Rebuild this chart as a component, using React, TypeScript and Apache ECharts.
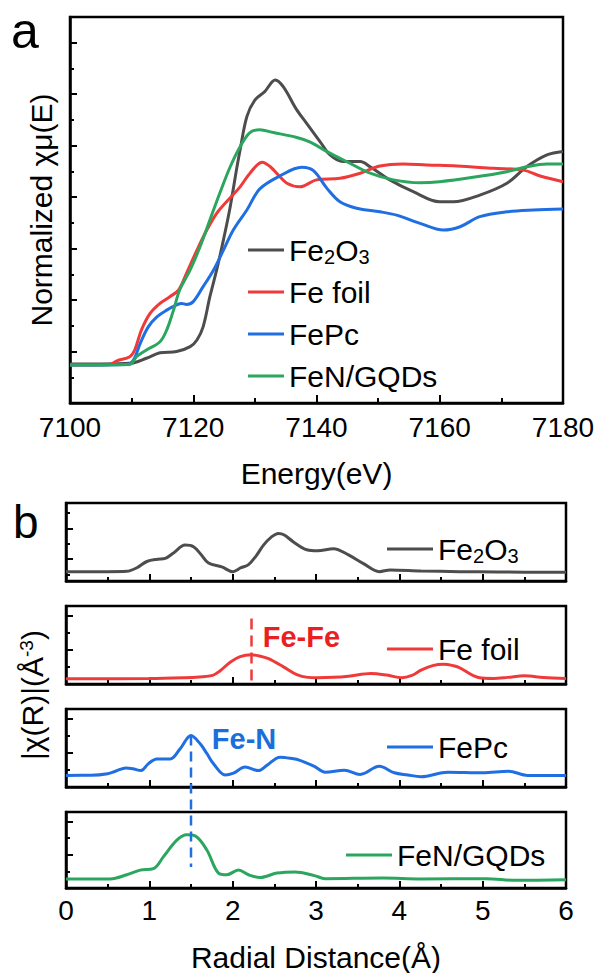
import React, { useEffect, useRef } from "react";
import * as echarts from "echarts";

const FONT = "'Liberation Sans', Arial, Helvetica, sans-serif";

const C_FE2O3 = "#4d4d4d";
const C_FOIL = "#f03a3a";
const C_FEPC = "#1f6fe2";
const C_FEN = "#2ba65e";

// ---------- (a) XANES: [energy (eV), normalized absorption] ----------
const xanesFe2O3 = [
  [7100, -0.048], [7105, -0.048], [7109.7, -0.046], [7112.4, -0.026], [7114.6, -0.005],
  [7117.3, 0.0], [7119.5, 0.019], [7120.6, 0.045], [7121.6, 0.096], [7122.7, 0.213],
  [7123.8, 0.317], [7124.9, 0.434], [7126.0, 0.563], [7127.1, 0.718], [7127.6, 0.783],
  [7128.7, 0.913], [7130.0, 0.977], [7131.6, 1.01], [7133.3, 1.055], [7134.6, 1.029],
  [7136.8, 0.939], [7138.4, 0.887], [7140.6, 0.815], [7142.2, 0.764], [7144.3, 0.738],
  [7147.1, 0.738], [7148.7, 0.718], [7151.9, 0.667], [7155.7, 0.621], [7160.0, 0.582],
  [7162.2, 0.582], [7166.5, 0.608], [7170.9, 0.654], [7174.1, 0.718], [7177.4, 0.764],
  [7180, 0.777],
];
const xanesFeFoil = [
  [7100, -0.052], [7106.5, -0.05], [7107.6, -0.036], [7109.7, -0.02], [7110.5, 0.006],
  [7111.6, 0.084], [7113.0, 0.148], [7114.6, 0.187], [7116.2, 0.213], [7117.6, 0.239],
  [7118.9, 0.304], [7120.6, 0.394], [7122.2, 0.472], [7123.8, 0.537], [7125.4, 0.582],
  [7127.6, 0.64], [7129.2, 0.693], [7131.2, 0.736], [7132.5, 0.718], [7133.8, 0.686],
  [7135.2, 0.654], [7137.3, 0.64], [7140.0, 0.667], [7143.8, 0.673], [7147.1, 0.693],
  [7150.3, 0.721], [7154.1, 0.729], [7157.9, 0.725], [7162.8, 0.721], [7168.7, 0.712],
  [7173.6, 0.705], [7176.3, 0.682], [7180, 0.66],
];
const xanesFePc = [
  [7100, -0.052], [7109.2, -0.05], [7110.3, -0.033], [7111.4, 0.032], [7112.7, 0.096],
  [7114.1, 0.135], [7115.7, 0.161], [7117.3, 0.181], [7118.1, 0.187], [7118.9, 0.183],
  [7120.0, 0.194], [7121.6, 0.252], [7123.3, 0.317], [7124.9, 0.394], [7126.5, 0.472],
  [7128.7, 0.55], [7130.8, 0.632], [7134.1, 0.683], [7137.6, 0.716], [7139.5, 0.703],
  [7141.7, 0.634], [7143.8, 0.582], [7146.5, 0.557], [7150.3, 0.543], [7153.0, 0.53],
  [7156.8, 0.498], [7160.6, 0.472], [7163.3, 0.485], [7166.5, 0.524], [7170.9, 0.543],
  [7175.2, 0.55], [7180, 0.554],
];
const xanesFeNGQDs = [
  [7100, -0.052], [7109.7, -0.05], [7110.8, -0.02], [7112.4, 0.006], [7114.6, 0.038],
  [7115.7, 0.084], [7116.8, 0.161], [7117.8, 0.239], [7119.5, 0.317], [7121.1, 0.407],
  [7122.7, 0.511], [7124.3, 0.615], [7126.0, 0.718], [7127.6, 0.796], [7129.2, 0.851],
  [7130.8, 0.862], [7133.0, 0.851], [7136.8, 0.832], [7138.9, 0.815], [7141.7, 0.777],
  [7144.9, 0.738], [7148.7, 0.693], [7152.5, 0.667], [7156.8, 0.656], [7160.0, 0.66],
  [7165.4, 0.677], [7170.9, 0.699], [7174.1, 0.718], [7177.4, 0.729], [7180, 0.729],
];
const xanesMajorTicks = [0, 0.2, 0.4, 0.6, 0.8, 1.0, 1.2];
const xanesMinorTicks = [-0.1, 0.1, 0.3, 0.5, 0.7, 0.9, 1.1];

// ---------- (b) FT-EXAFS: [R (Å), |χ(R)| relative to panel height] ----------
const exafsFe2O3 = [
  [0, 0.12], [0.5, 0.12], [0.73, 0.125], [0.85, 0.17], [0.97, 0.25], [1.1, 0.28],
  [1.19, 0.29], [1.29, 0.36], [1.43, 0.46], [1.53, 0.44], [1.62, 0.34], [1.71, 0.23],
  [1.87, 0.18], [2.0, 0.12], [2.1, 0.17], [2.19, 0.21], [2.28, 0.32], [2.37, 0.46],
  [2.46, 0.56], [2.55, 0.61], [2.62, 0.59], [2.73, 0.5], [2.89, 0.4], [3.02, 0.387],
  [3.21, 0.414], [3.39, 0.334], [3.57, 0.222], [3.76, 0.12], [3.89, 0.142], [4.26, 0.129],
  [4.72, 0.12], [5.18, 0.115], [6, 0.111],
];
const exafsFeFoil = [
  [0, 0.068], [1.0, 0.07], [1.42, 0.08], [1.6, 0.09], [1.76, 0.11], [1.85, 0.17],
  [1.97, 0.28], [2.09, 0.35], [2.22, 0.375], [2.32, 0.36], [2.43, 0.325], [2.61, 0.22],
  [2.77, 0.12], [2.9, 0.085], [3.02, 0.08], [3.21, 0.085], [3.39, 0.1], [3.66, 0.135],
  [3.85, 0.114], [4.03, 0.08], [4.15, 0.11], [4.26, 0.177], [4.4, 0.235], [4.53, 0.253],
  [4.65, 0.235], [4.72, 0.21], [4.95, 0.084], [5.13, 0.072], [5.3, 0.085], [5.5, 0.105],
  [5.73, 0.084], [6, 0.072],
];
const exafsFePc = [
  [0, 0.149], [0.3, 0.15], [0.5, 0.17], [0.6, 0.205], [0.72, 0.245], [0.8, 0.235],
  [0.9, 0.21], [0.99, 0.3], [1.09, 0.36], [1.25, 0.36], [1.37, 0.49], [1.5, 0.66],
  [1.61, 0.553], [1.69, 0.43], [1.77, 0.298], [1.91, 0.155], [2.01, 0.179], [2.15, 0.256],
  [2.31, 0.21], [2.41, 0.277], [2.57, 0.383], [2.73, 0.362], [2.79, 0.348], [2.98, 0.265],
  [3.11, 0.19], [3.34, 0.215], [3.53, 0.161], [3.76, 0.265], [3.94, 0.182], [4.1, 0.155],
  [4.26, 0.132], [4.58, 0.19], [5.0, 0.182], [5.31, 0.203], [5.54, 0.149], [6, 0.149],
];
const exafsFeNGQDs = [
  [0, 0.12], [0.53, 0.12], [0.73, 0.174], [0.89, 0.235], [1.05, 0.255], [1.17, 0.413],
  [1.33, 0.63], [1.45, 0.7], [1.55, 0.685], [1.69, 0.5], [1.83, 0.196], [1.93, 0.174],
  [2.07, 0.236], [2.19, 0.174], [2.33, 0.138], [2.53, 0.196], [2.75, 0.212], [2.98, 0.163],
  [3.11, 0.123], [3.8, 0.132], [4.26, 0.119], [5.04, 0.123], [5.4, 0.101], [6, 0.11],
];
const panelMajorTicks = [[0.28, 0.67], [0.44, 0.87], [0.44, 0.87], [0.44, 0.87]];
const panelMinorTicks = [[0.08, 0.48, 0.87], [0.22, 0.655], [0.22, 0.655], [0.22, 0.655]];

// annotations
const feFeLine = [[2.22, 0.84], [2.22, 0]];
const feFeLabel = [2.36, 0.6];
const feNLabel = [1.75, 0.62];
const feNGuide = [[1.5, 0.66], [1.5, -1.025]];

const names = ["Fe2O3", "Fe foil", "FePc", "FeN/GQDs"];

export default function App() {
  const ref = useRef<HTMLDivElement>(null);
  useEffect(() => {
    if (!ref.current) return;
    const chart = echarts.init(ref.current, undefined, { renderer: "svg" });

    const grids = [
      { left: 70, top: 17, width: 493, height: 386 },
      { left: 66, top: 503, width: 500, height: 78 },
      { left: 66, top: 606, width: 500, height: 78 },
      { left: 66, top: 709, width: 500, height: 78 },
      { left: 66, top: 812, width: 500, height: 77 },
    ].map((g) => ({ ...g, show: true, borderColor: "#000", borderWidth: 2.5, backgroundColor: "transparent" }));

    const tickLine = { color: "#000", width: 2 };
    const axLine = { show: true, onZero: false, lineStyle: { color: "#000", width: 2.5 } };
    const labelStyle = { fontFamily: FONT, fontSize: 28, color: "#000", formatter: (v: number) => String(v) };
    const nameStyle = { fontFamily: FONT, fontSize: 30, color: "#000" };

    const xAxis: any[] = [
      {
        gridIndex: 0, type: "value", min: 7100, max: 7180, interval: 20,
        axisLine: axLine,
        axisTick: { show: true, inside: true, length: 8, lineStyle: tickLine },
        minorTick: { show: true, splitNumber: 2, length: 5, lineStyle: tickLine },
        axisLabel: { ...labelStyle, margin: 10 },
        splitLine: { show: false },
        name: "Energy(eV)", nameLocation: "middle", nameGap: 55, nameTextStyle: nameStyle,
      },
    ];
    for (let i = 1; i <= 4; i++) {
      xAxis.push({
        gridIndex: i, type: "value", min: 0, max: 6, interval: 1,
        axisLine: axLine,
        axisTick: { show: true, inside: true, length: 7, lineStyle: tickLine },
        minorTick: { show: true, splitNumber: 2, length: 4, lineStyle: tickLine },
        axisLabel: i === 4 ? { ...labelStyle, margin: 8 } : { show: false },
        splitLine: { show: false },
        ...(i === 4
          ? { name: "Radial Distance(Å)", nameLocation: "middle", nameGap: 54, nameTextStyle: nameStyle }
          : {}),
      });
    }

    const yPair = (gridIndex: number, min: number, max: number, major: number[], minor: number[], extra: any = {}) => [
      {
        gridIndex, type: "value", min, max, position: "left",
        axisLine: axLine,
        axisTick: { show: true, inside: true, length: 7, lineStyle: tickLine, customValues: major },
        axisLabel: { show: false },
        splitLine: { show: false },
        ...extra,
      },
      {
        gridIndex, type: "value", min, max, position: "left", offset: 0,
        axisLine: { show: false, onZero: false },
        axisTick: { show: true, inside: true, length: 4, lineStyle: tickLine, customValues: minor },
        axisLabel: { show: false },
        splitLine: { show: false },
      },
    ];

    const yAxis: any[] = [
      ...yPair(0, -0.2, 1.3, xanesMajorTicks, xanesMinorTicks, {
        name: "Normalized χμ(E)", nameLocation: "middle", nameRotate: 90, nameGap: 14, nameTextStyle: nameStyle,
      }),
    ];
    for (let i = 0; i < 4; i++) yAxis.push(...yPair(i + 1, 0, 1, panelMajorTicks[i], panelMinorTicks[i]));

    const line = (name: string, data: number[][], color: string, xi: number, yi: number, extra: any = {}) => ({
      type: "line", name, data, xAxisIndex: xi, yAxisIndex: yi,
      showSymbol: false, symbol: "none", smooth: 0.35,
      lineStyle: { color, width: 3 }, itemStyle: { color }, z: 3, silent: true, ...extra,
    });

    const boldLabel = (text: string, color: string) => ({
      show: true, position: "right", distance: 0, formatter: text, color,
      fontFamily: FONT, fontSize: 29, fontWeight: "bold",
    });

    const series: any[] = [
      line("Fe2O3", xanesFe2O3, C_FE2O3, 0, 0),
      line("Fe foil", xanesFeFoil, C_FOIL, 0, 0),
      line("FePc", xanesFePc, C_FEPC, 0, 0),
      line("FeN/GQDs", xanesFeNGQDs, C_FEN, 0, 0),
      line("Fe2O3", exafsFe2O3, C_FE2O3, 1, 2),
      line("Fe foil", exafsFeFoil, C_FOIL, 2, 4, {
        markLine: {
          silent: true, symbol: ["none", "none"], animation: false,
          lineStyle: { color: C_FOIL, width: 2.5, type: [11, 6] }, label: { show: false },
          data: [[{ coord: feFeLine[0] }, { coord: feFeLine[1] }]],
        },
        markPoint: {
          silent: true, symbol: "circle", symbolSize: 0, animation: false,
          label: boldLabel("Fe-Fe", "#ea1f1f"),
          data: [{ coord: feFeLabel }],
        },
      }),
      line("FePc", exafsFePc, C_FEPC, 3, 6, {
        markPoint: {
          silent: true, symbol: "circle", symbolSize: 0, animation: false,
          label: boldLabel("Fe-N", "#1b6fd9"),
          data: [{ coord: feNLabel }],
        },
      }),
      line("FeN/GQDs", exafsFeNGQDs, C_FEN, 4, 8),
      {
        type: "line", name: "guide", data: feNGuide, xAxisIndex: 3, yAxisIndex: 6, clip: false,
        showSymbol: false, symbol: "none", silent: true, z: 4,
        lineStyle: { color: C_FEPC, width: 2.5, type: [10, 6] },
      },
    ];

    const legendText = {
      fontFamily: FONT, fontSize: 30, color: "#000", lineHeight: 34,
      rich: { sub: { fontFamily: FONT, fontSize: 20, color: "#000", verticalAlign: "bottom" } },
    };
    const fmt = (n: string) => (n === "Fe2O3" ? "Fe{sub|2}O{sub|3}" : n);
    const legendBase = { padding: 0, icon: "rect", itemHeight: 3, formatter: fmt, textStyle: legendText, selectedMode: false };

    const panelLegendPos = [
      { left: 387, center: 549 },
      { left: 387, center: 649 },
      { left: 387, center: 747 },
      { left: 346, center: 855 },
    ];

    const legend: any[] = [
      { ...legendBase, orient: "vertical", left: 248, top: 233, itemGap: 8, itemWidth: 36, data: names },
      ...names.map((n, i) => ({
        ...legendBase, left: panelLegendPos[i].left, top: panelLegendPos[i].center - 17, itemWidth: 46, data: [n],
      })),
    ];

    chart.setOption({
      animation: false,
      backgroundColor: "#fff",
      grid: grids,
      xAxis,
      yAxis,
      legend,
      series,
      graphic: [
        { type: "text", x: 11, y: 31, silent: true, style: { text: "a", fontFamily: FONT, fontSize: 50, fill: "#000", align: "left", verticalAlign: "middle" } },
        { type: "text", x: 13, y: 522, silent: true, style: { text: "b", fontFamily: FONT, fontSize: 46, fill: "#000", align: "left", verticalAlign: "middle" } },
        {
          type: "text", x: 32, y: 695, rotation: Math.PI / 2, silent: true,
          style: {
            text: "|χ(R)|(Å{sup|-3})", fontFamily: FONT, fontSize: 30, fill: "#000",
            align: "center", verticalAlign: "middle",
            rich: { sup: { fontFamily: FONT, fontSize: 19, fill: "#000", verticalAlign: "top" } },
          },
        },
      ],
    });
    return () => chart.dispose();
  }, []);
  return <div ref={ref} style={{ position: "absolute", left: 0, top: 0, width: 598, height: 973 }} />;
}
